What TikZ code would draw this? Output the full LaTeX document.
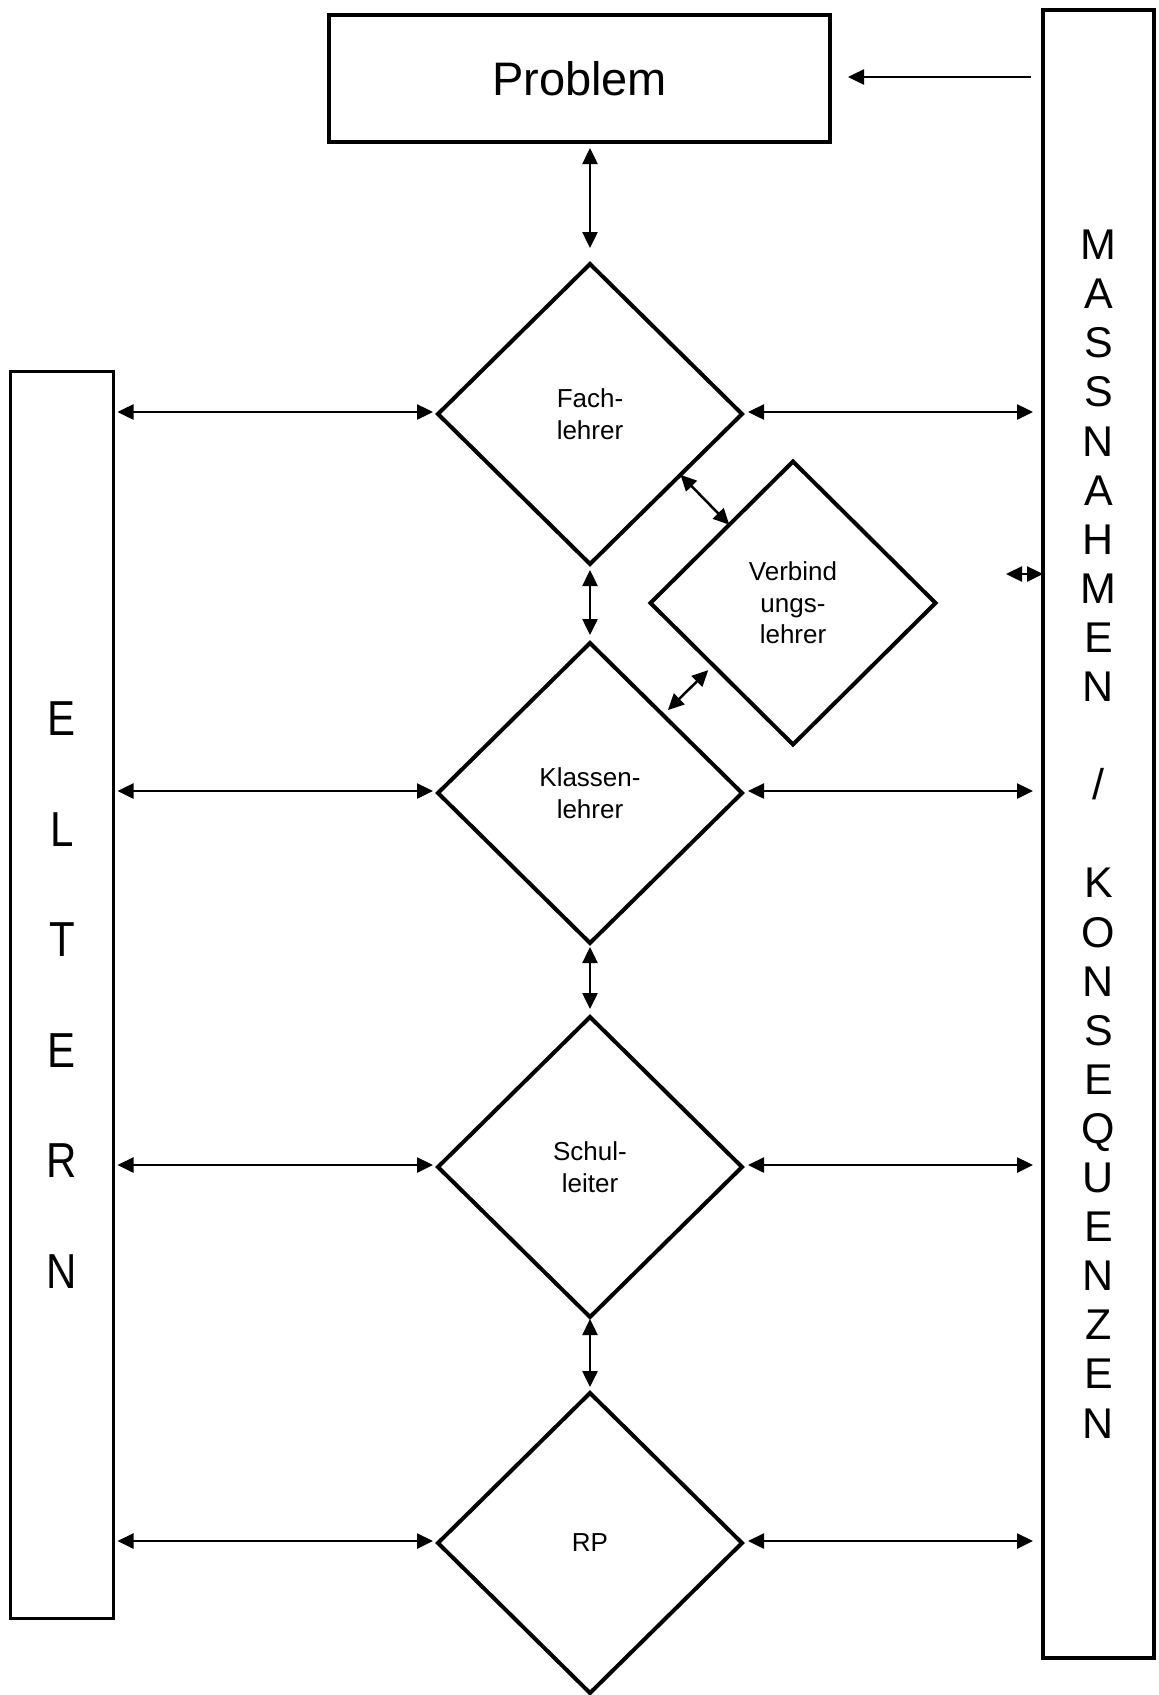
\documentclass[tikz,border=0pt]{standalone}
\usepackage{fontspec}
\setmainfont{Liberation Sans}
\usetikzlibrary{shapes.geometric,arrows.meta,calc}
\newcommand{\tallletter}[1]{\scalebox{1}[1.17]{#1}}
\begin{document}
\begin{tikzpicture}[x=1pt,y=-1pt,
  every node/.style={outer sep=0pt, inner sep=0pt},
  dia/.style={diamond, draw, line width=4pt, minimum width=304pt, minimum height=300pt, align=center, font=\fontsize{26}{31.5}\selectfont},
  arr/.style={line width=2.5pt, {Triangle[length=16pt,width=15pt]}-{Triangle[length=16pt,width=15pt]}},
  rarr/.style={line width=2.5pt, -{Triangle[length=16pt,width=15pt]}},
  sidebox/.style={draw, align=center}
]
\useasboundingbox (0,0) rectangle (1159,1695);

\node[draw, line width=4pt, minimum width=501pt, minimum height=127pt, font=\fontsize{47}{54}\selectfont] (prob) at (579.5,78.5) {Problem};

\node[sidebox, line width=4.5pt, minimum width=111pt, minimum height=1648pt, font=\fontsize{43}{49.1}\selectfont] (mass) at (1098.5,834)
 {M\\A\\S\\S\\N\\A\\H\\M\\E\\N\\[49.1pt]/\\[49.1pt]K\\O\\N\\S\\E\\Q\\U\\E\\N\\Z\\E\\N};

\node[sidebox, line width=2.5pt, minimum width=103pt, minimum height=1247pt, font=\fontsize{42}{55.3}\selectfont] (elt) at (62,995)
 {\tallletter{E}\\[55.3pt]\tallletter{L}\\[55.3pt]\tallletter{T}\\[55.3pt]\tallletter{E}\\[55.3pt]\tallletter{R}\\[55.3pt]\tallletter{N}};

\node[dia] (fach) at (590,414) {Fach-\\lehrer};
\node[dia, minimum width=285pt, minimum height=283pt] (verb) at (793,603) {Verbind\\ungs-\\lehrer};
\node[dia] (klas) at (590,793) {Klassen-\\lehrer};
\node[dia] (schul) at (590,1167) {Schul-\\leiter};
\node[dia] (rp) at (590,1543) {RP};

% Massnahmen -> Problem
\draw[rarr] ($(mass.west |- prob.east)+(-12,-1.5)$) -- ($(prob.east)+(18,-1.5)$);

% vertical chain
\draw[arr] ($(fach.north |- prob.south)+(0,6)$) -- ($(fach.north)+(0,-16)$);
\draw[arr] ($(fach.south)+(0,6)$) -- ($(klas.north)+(0,-8)$);
\draw[arr] ($(klas.south)+(0,4)$) -- ($(schul.north)+(0,-8)$);
\draw[arr] ($(schul.south)+(0,2)$) -- ($(rp.north)+(0,-6)$);

% Eltern <-> diamonds
\foreach \n in {fach,klas,schul,rp}
  \draw[arr] ($(elt.east |- \n.west)+(4,-2)$) -- ($(\n.west)+(-5,-2)$);

% diamonds <-> Massnahmen
\foreach \n in {fach,klas,schul,rp}
  \draw[arr] ($(\n.east)+(6,-2)$) -- ($(mass.west |- \n.east)+(-10,-2)$);

% Verbindungslehrer links
\draw[arr] ($(fach.east)!0.405!(fach.south)$) -- ($(verb.west)!0.553!(verb.north)$);
\draw[arr, shorten <=7pt, shorten >=7pt] ($(verb.west)!0.44!(verb.south)$) -- ($(klas.north)!0.48!(klas.east)$);

% small arrow at Massnahmen
\coordinate (smallend) at (mass.west |- 0,574);
\draw[arr] ($(smallend)+(-37,0)$) -- (smallend);
\end{tikzpicture}
\end{document}
